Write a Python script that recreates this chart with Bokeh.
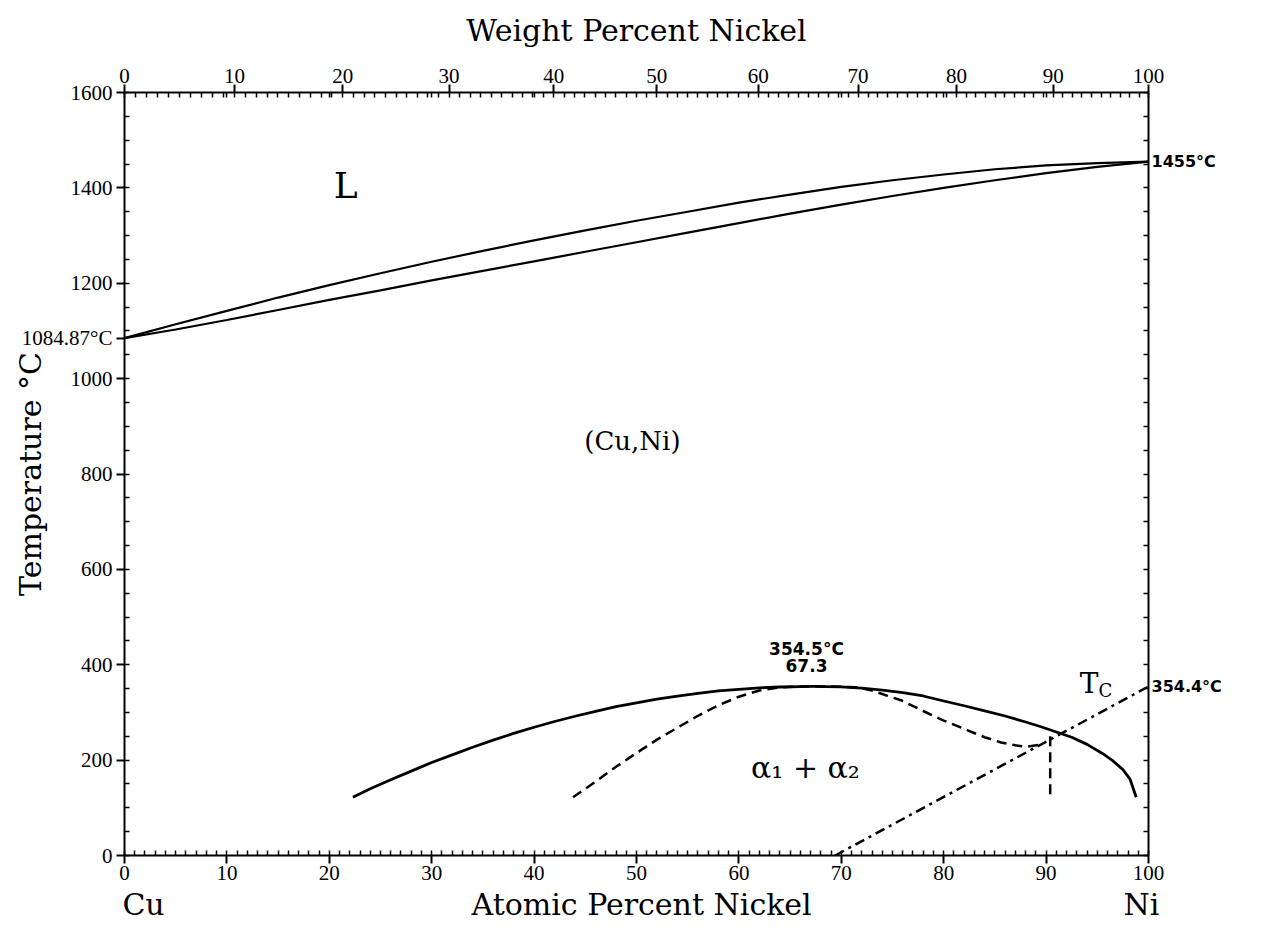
from bokeh.plotting import figure
from bokeh.models import Range1d, LinearAxis, FixedTicker, CustomJSTickFormatter, Label
from bokeh.embed import file_html
from bokeh.resources import INLINE

M_NI = 58.6934
M_CU = 63.546


def wt_to_at(w):
    if w <= 0:
        return 0.0
    if w >= 100:
        return 100.0
    n = w / M_NI
    c = (100.0 - w) / M_CU
    return 100.0 * n / (n + c)


# ---------------- data (atomic % Ni, temperature in C) ----------------
liquidus_at = [0, 5, 10, 15, 20, 25, 30, 35, 40, 45, 50, 55, 60, 65, 70, 75, 80, 85, 90, 95, 100]
liquidus_T = [1084.87, 1114, 1142, 1170, 1196, 1221, 1245, 1268, 1290, 1311, 1331, 1350,
              1369, 1386, 1402, 1416, 1428, 1439, 1447, 1452, 1455]

solidus_at = [0, 5, 10, 15, 20, 25, 30, 35, 40, 45, 50, 55, 60, 65, 70, 75, 80, 85, 90, 95, 100]
solidus_T = [1084.87, 1103, 1123, 1144, 1165, 1185, 1206, 1226, 1246, 1266, 1286, 1306,
             1326, 1346, 1365, 1383, 1400, 1416, 1431, 1444, 1455]

gap_at = [22.3, 24, 26, 28, 30, 32, 34, 36, 38, 40, 42, 44, 46, 48, 50, 52, 54, 56, 58,
          60, 62, 64, 66, 67.3, 68.5, 70, 72, 74, 76, 78, 80, 82, 84, 86, 88, 89.5,
          91, 92.5, 94, 95.5, 96.5, 97.5, 98.2, 98.8]
gap_T = [122, 140, 159, 177, 195, 211, 227, 242, 256, 269, 281, 292, 302, 312, 320, 328,
         334, 340, 345, 348.5, 351.5, 353.3, 354.3, 354.5, 354.3, 353.5, 351, 347, 341.5,
         334.5, 324, 314, 303.5, 292.5, 280, 270, 259, 248, 233, 214, 199, 180, 160, 122]

spinodal_at = [43.8, 46, 48, 50, 52, 54, 56, 58, 60, 62, 64, 66, 67.3, 69, 71.5, 73,
               74.5, 75.9, 78, 80, 82.4, 84, 85.6, 87, 88, 89.3]
spinodal_T = [122, 155, 186, 215, 243, 268, 293, 315, 333, 346, 352.5, 354.5, 354.5, 354.5,
              353, 346, 335, 325, 303, 283, 262, 248, 237, 231, 228, 232]

spin_vert_at = [90.4, 90.4]
spin_vert_T = [250, 120]

curie_at = [69.4, 100]
curie_T = [0, 354.4]

at_major = list(range(0, 101, 10))
at_minor = list(range(0, 101, 1))
wt_major = list(range(0, 101, 10))
wt_minor = list(range(0, 101, 1))
T_major = list(range(0, 1601, 200))
T_minor = list(range(0, 1601, 50))

cu_melt = 1084.87
ni_melt = 1455
ni_curie = 354.4

# ---------------- figure ----------------
p = figure(width=1269, height=945, x_range=Range1d(0, 100), y_range=Range1d(0, 1600),
           output_backend="svg", toolbar_location=None,
           x_axis_location=None, y_axis_location=None,
           min_border_left=124, min_border_right=121, min_border_top=92, min_border_bottom=90)
p.outline_line_color = None
p.background_fill_color = "white"
p.border_fill_color = "white"
for g in p.grid:
    g.visible = False

SERIF = "DejaVu Serif"
TICKF = "Liberation Serif"
BOLD = "DejaVu Sans"


def style(ax, out_major=8, in_major=0, in_minor=5):
    ax.axis_line_color = "black"
    ax.axis_line_width = 2
    ax.major_tick_line_color = "black"
    ax.major_tick_line_width = 2
    ax.minor_tick_line_color = "black"
    ax.minor_tick_line_width = 1.5
    ax.major_tick_out = out_major
    ax.major_tick_in = in_major
    ax.minor_tick_out = 0
    ax.minor_tick_in = in_minor
    ax.major_label_text_font = TICKF
    ax.major_label_text_font_size = "21px"
    ax.major_label_text_color = "black"
    ax.axis_label_text_font = SERIF
    ax.axis_label_text_font_size = "30px"
    ax.axis_label_text_font_style = "normal"
    ax.axis_label_text_color = "black"


# bottom: atomic percent ticks
bottom = LinearAxis(ticker=FixedTicker(ticks=at_major, minor_ticks=at_minor))
style(bottom)
bottom.major_label_standoff = 2
p.add_layout(bottom, "below")

# second row below: "Cu", axis title, "Ni"
row_ticks = [1.86, 50.5, 99.3]
row_labels = {1.86: "Cu", 50.5: "Atomic Percent Nickel", 99.3: "Ni"}
bottom2 = LinearAxis(ticker=FixedTicker(ticks=row_ticks, minor_ticks=[]),
                     major_label_overrides=row_labels)
bottom2.axis_line_color = None
bottom2.major_tick_line_color = None
bottom2.minor_tick_line_color = None
bottom2.major_tick_out = 0
bottom2.major_tick_in = 0
bottom2.major_label_standoff = 4
bottom2.major_label_text_font = SERIF
bottom2.major_label_text_font_size = "30px"
bottom2.major_label_text_color = "black"
p.add_layout(bottom2, "below")

# left: temperature ticks plus the Cu melting point
left = LinearAxis(ticker=FixedTicker(ticks=T_major + [cu_melt], minor_ticks=T_minor),
                  major_label_overrides={cu_melt: "1084.87°C"},
                  axis_label="Temperature °C")
style(left)
left.major_label_standoff = 4
left.axis_label_standoff = -29
p.add_layout(left, "left")

top_ticks = [wt_to_at(w) for w in wt_major]
top_minor = sorted(set([wt_to_at(w) for w in wt_minor] + at_major))
top = LinearAxis(ticker=FixedTicker(ticks=top_ticks, minor_ticks=top_minor),
                 axis_label="Weight Percent Nickel",
                 formatter=CustomJSTickFormatter(code="""
                     const a = tick;
                     const w = 100*a*58.6934/(a*58.6934 + (100-a)*63.546);
                     return Math.round(w).toString();
                 """))
style(top)
top.major_label_standoff = 2
top.axis_label_standoff = 18
p.add_layout(top, "above")

right = LinearAxis(ticker=FixedTicker(ticks=[ni_curie, ni_melt], minor_ticks=T_minor),
                   major_label_overrides={ni_curie: "354.4°C", ni_melt: "1455°C"})
style(right, out_major=0, in_major=0, in_minor=5)
right.major_label_text_font = BOLD
right.major_label_text_font_style = "bold"
right.major_label_text_font_size = "16px"
right.major_label_standoff = 3
p.add_layout(right, "right")

# ---------------- curves ----------------
p.line(liquidus_at, liquidus_T, line_color="black", line_width=2.2)
p.line(solidus_at, solidus_T, line_color="black", line_width=2.2)
p.line(gap_at, gap_T, line_color="black", line_width=2.8, line_join="round")
p.line(spinodal_at, spinodal_T, line_color="black", line_width=2.5, line_dash="10 6")
p.line(spin_vert_at, spin_vert_T, line_color="black", line_width=2.5, line_dash="10 6")
p.line(curie_at, curie_T, line_color="black", line_width=2.5, line_dash="10 5 3 5")


# ---------------- labels ----------------
def lab(x, y, text, font=SERIF, size="28px", style="normal", align="center",
        baseline="middle", xo=0, yo=0):
    p.add_layout(Label(x=x, y=y, text=text, text_font=font, text_font_size=size,
                       text_font_style=style, text_align=align, text_baseline=baseline,
                       x_offset=xo, y_offset=yo, text_color="black"))


lab(21.6, 1405, "L", size="36px")
lab(49.6, 870, "(Cu,Ni)", size="26px")
lab(66.5, 184, "α₁ + α₂", size="30px")
lab(66.6, 434, "354.5°C", font=BOLD, size="17px", style="bold")
lab(66.6, 398, "67.3", font=BOLD, size="17px", style="bold")
lab(94.2, 360, "T", size="28px")
lab(95.8, 345, "C", size="18px")

open("out.html", "w").write(file_html(p, INLINE))
